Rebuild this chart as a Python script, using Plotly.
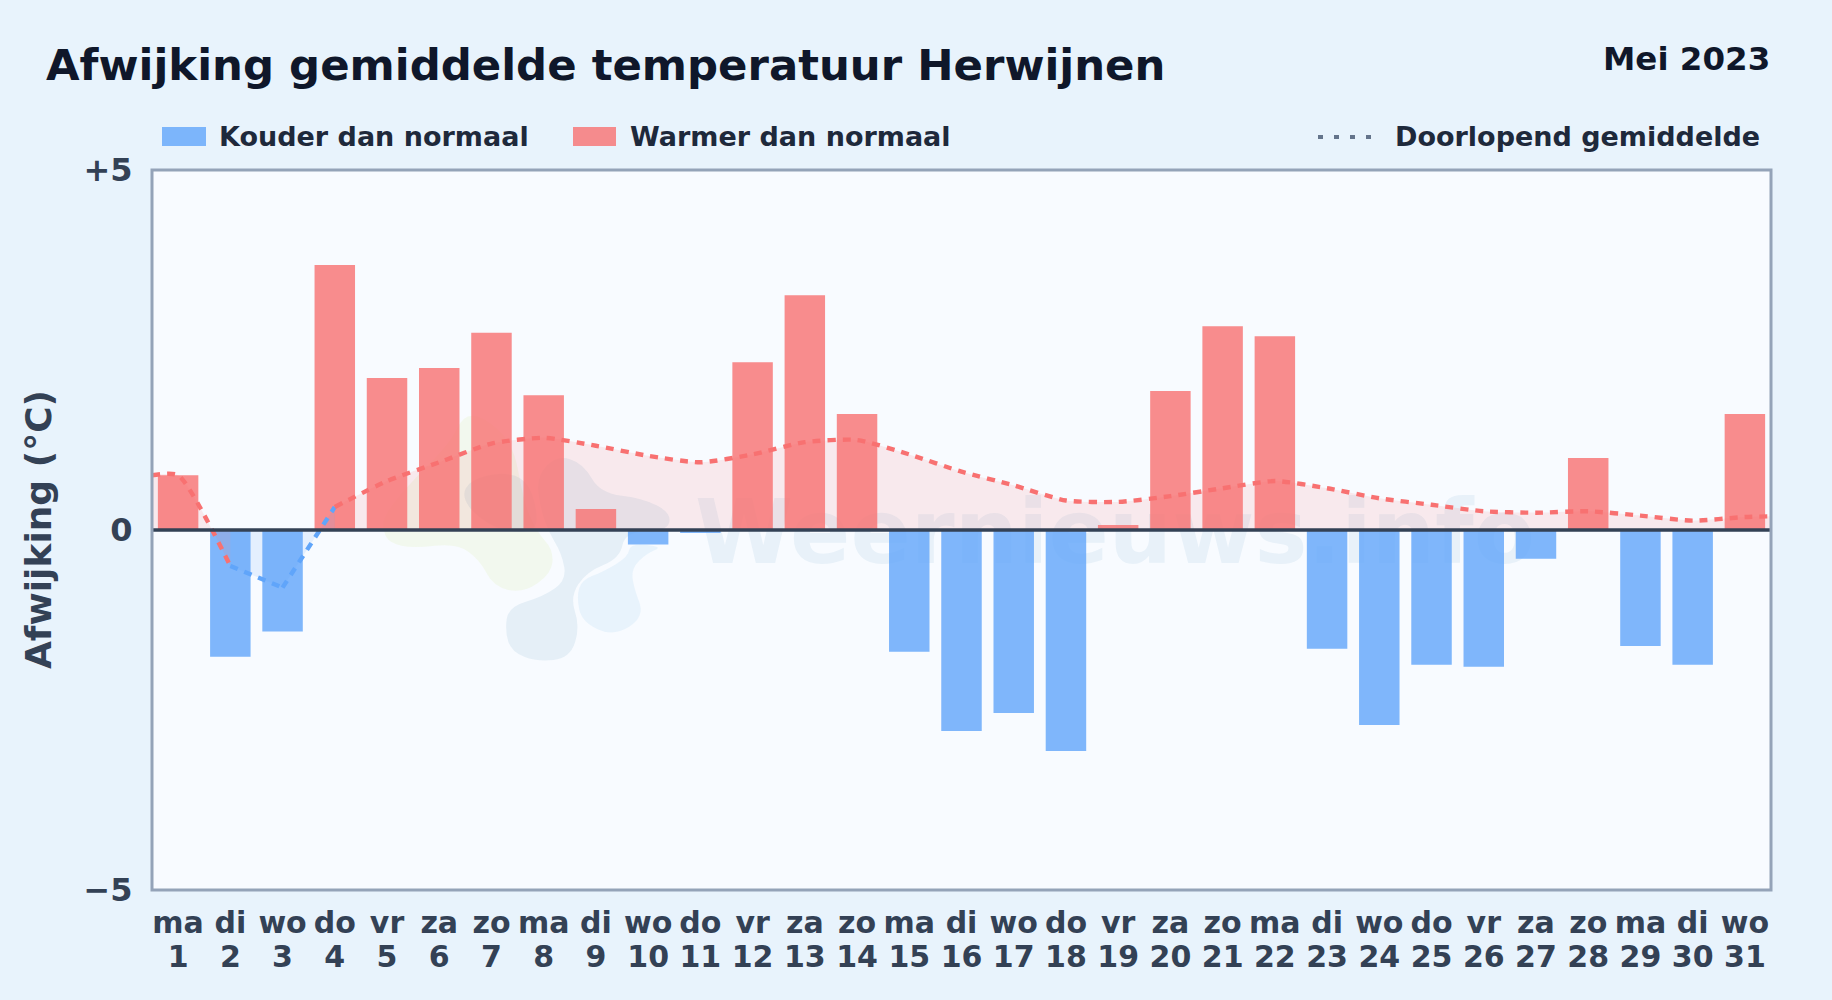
import plotly.graph_objects as go

# ---- data ----
weekdays = ["ma","di","wo","do","vr","za","zo"] * 4 + ["ma","di","wo"]
days = list(range(1, 32))
deviation = [0.76,-1.76,-1.41,3.68,2.11,2.25,2.74,1.87,0.29,-0.20,-0.04,2.33,3.26,1.61,-1.69,
             -2.79,-2.54,-3.07,0.07,1.93,2.83,2.69,-1.65,-2.71,-1.87,-1.90,-0.40,1.00,-1.61,-1.87,1.61]
running_mean = [0.76,-0.50,-0.80,0.32,0.68,0.94,1.20,1.28,1.17,1.03,0.94,1.05,1.22,1.25,1.05,
                0.81,0.62,0.41,0.39,0.47,0.58,0.68,0.58,0.44,0.35,0.26,0.24,0.26,0.20,0.13,0.18]
mean_left_edge = 0.76
mean_right_edge = 0.19
y_ticks = [-5, 0, 5]
y_tick_text = ["−5", "0", "+5"]

FONT = "DejaVu Sans"
RED, BLUE = "#F87171", "#60A5FA"
RED_BAR, BLUE_BAR = "rgba(248,113,113,0.8)", "rgba(96,165,250,0.8)"
RED_FILL, BLUE_FILL = "rgba(248,113,113,0.13)", "rgba(96,165,250,0.13)"

W, H = 1832, 1000
L, R, T, B = 152, 1771, 170, 890
px = lambda x: (x - L) / (R - L)
py = lambda y: (B - y) / (B - T)

fig = go.Figure()
pos_days = [d for d, v in zip(days, deviation) if v >= 0]
pos_vals = [v for v in deviation if v >= 0]
neg_days = [d for d, v in zip(days, deviation) if v < 0]
neg_vals = [v for v in deviation if v < 0]
fig.add_bar(x=neg_days, y=neg_vals, marker=dict(color=BLUE_BAR, line_width=0), name="Kouder dan normaal", width=0.775)
fig.add_bar(x=pos_days, y=pos_vals, marker=dict(color=RED_BAR, line_width=0), name="Warmer dan normaal", width=0.775)

segments = [
    ([0.5] + days[0:2], [mean_left_edge] + running_mean[0:2], RED, RED_FILL),
    (days[1:3], running_mean[1:3], BLUE, BLUE_FILL),
    (days[2:4], running_mean[2:4], BLUE, BLUE_FILL),
    (days[3:] + [31.5], running_mean[3:] + [mean_right_edge], RED, RED_FILL),
]
for sx, sy, col, fillc in segments:
    fig.add_scatter(x=sx, y=sy, mode="lines", fill="tozeroy", fillcolor=fillc,
                    line=dict(color=col, width=4.4, dash="8px,7px", shape="spline", smoothing=0.6),
                    name="Doorlopend gemiddelde", hoverinfo="skip")

# invisible carrier so that the second row of x labels (day numbers) is drawn
fig.add_scatter(x=days, y=[None] * len(days), xaxis="x2", mode="lines", showlegend=False, hoverinfo="skip")

# ---- decorative watermark logo (crop coordinates of the logo area) ----
def blob(points, fill):
    P = [(370 + a / 3, 400 + b / 3) for a, b in points]
    P = [(px(a), py(b)) for a, b in P]
    n = len(P)
    mid = lambda p, q: ((p[0] + q[0]) / 2, (p[1] + q[1]) / 2)
    s = mid(P[-1], P[0])
    path = f"M {s[0]:.5f},{s[1]:.5f} "
    for i in range(n):
        m = mid(P[i], P[(i + 1) % n])
        path += f"Q {P[i][0]:.5f},{P[i][1]:.5f} {m[0]:.5f},{m[1]:.5f} "
    return dict(type="path", path=path + "Z", xref="paper", yref="paper", fillcolor=fill,
                line_width=0, layer="below")

yellow = [(40,395),(60,430),(130,445),(260,430),(330,480),(370,560),(460,580),(545,520),(550,450),
          (500,395),(460,300),(430,130),(340,50),(280,45),(240,130),(110,260),(40,350)]
grey = [(405,695),(415,620),(520,590),(590,540),(575,460),(535,395),(510,320),(500,230),(560,165),
        (640,190),(690,280),(820,295),(905,340),(890,395),(765,395),(750,475),(650,515),(600,590),
        (630,680),(600,775),(500,785),(425,755)]
grey2 = [(275,290),(300,240),(400,215),(470,240),(500,320),(500,395),(400,395),(320,350)]
light = [(620,590),(635,665),(730,710),(825,650),(790,560),(785,505),(830,460),(880,440),(780,430),
         (775,470),(700,515),(635,540)]

shapes = [
    blob(yellow, "rgba(198,221,85,0.10)"),
    blob(grey, "rgba(70,135,180,0.10)"),
    blob(grey2, "rgba(70,135,180,0.10)"),
    blob(light, "rgba(98,181,225,0.10)"),
    dict(type="rect", xref="paper", yref="paper", x0=px(700), x1=px(1530), y0=py(576), y1=py(476),
         line_width=0, fillcolor="rgba(0,0,0,0)", layer="below",
         label=dict(text="<b>Weernieuws.info</b>", textposition="middle center",
                    font=dict(family=FONT, size=89, color="rgba(70,135,185,0.085)"))),
    # zero line and plot frame
    dict(type="line", xref="paper", yref="y", x0=0, x1=1, y0=0, y1=0, line=dict(color="#334155", width=3.6), layer="above"),
    dict(type="rect", xref="paper", yref="paper", x0=0, x1=1, y0=0, y1=1, line=dict(color="#94A3B8", width=3), layer="above"),
    # legend swatches
    dict(type="rect", xref="paper", yref="paper", x0=px(162), x1=px(206), y0=py(146), y1=py(127), fillcolor=BLUE_BAR, line_width=0),
    dict(type="rect", xref="paper", yref="paper", x0=px(573), x1=px(616), y0=py(146), y1=py(127), fillcolor=RED_BAR, line_width=0),
    dict(type="line", xref="paper", yref="paper", x0=px(1318), x1=px(1376), y0=py(137), y1=py(137),
         line=dict(color="#64748B", width=4, dash="5px,11px")),
]

def text(x, y, s, size, color, xanchor="left", angle=0):
    return dict(xref="paper", yref="paper", x=px(x), y=py(y), text=f"<b>{s}</b>", showarrow=False,
                xanchor=xanchor, yanchor="middle", textangle=angle,
                font=dict(family=FONT, size=size, color=color))

annotations = [
    text(44, 65, "Afwijking gemiddelde temperatuur Herwijnen", 43.4, "#0F172A"),
    text(1772, 59, "Mei 2023", 32.5, "#0F172A", "right"),
    text(217, 137, "Kouder dan normaal", 27, "#1E293B"),
    text(628, 137, "Warmer dan normaal", 27, "#1E293B"),
    text(1393, 137, "Doorlopend gemiddelde", 27, "#1E293B"),
    text(38, 530, "Afwijking (°C)", 36, "#334155", "center", -90),
]

tick_style = dict(tickmode="array", tickvals=days, tickangle=0,
                  tickfont=dict(family=FONT, size=30, color="#334155"),
                  ticks="outside", tickcolor="rgba(0,0,0,0)",
                  showgrid=False, zeroline=False, showline=False)

fig.update_layout(
    width=W, height=H, autosize=False,
    margin=dict(l=L, r=W - R, t=T, b=H - B, pad=0),
    paper_bgcolor="#E8F3FC", plot_bgcolor="#F8FBFF",
    barmode="overlay", showlegend=False,
    font=dict(family=FONT),
    shapes=shapes, annotations=annotations,
    xaxis=dict(range=[0.5, 31.5], ticktext=[f"<b>{w}</b>" for w in weekdays], ticklen=6, **tick_style),
    xaxis2=dict(range=[0.5, 31.5], overlaying="x", side="bottom", anchor="y",
                ticktext=[f"<b>{d}</b>" for d in days], ticklen=40, **tick_style),
    yaxis=dict(range=[-5, 5], tickmode="array", tickvals=y_ticks,
               ticktext=[f"<b>{t}</b>" for t in y_tick_text],
               tickfont=dict(family=FONT, size=32, color="#334155"),
               ticks="outside", ticklen=12, tickcolor="rgba(0,0,0,0)",
               showgrid=False, zeroline=False, showline=False),
)
fig.write_html("out.html", config={"displayModeBar": False},
               post_script="document.body.style.margin='0';document.documentElement.style.background='#E8F3FC';")
